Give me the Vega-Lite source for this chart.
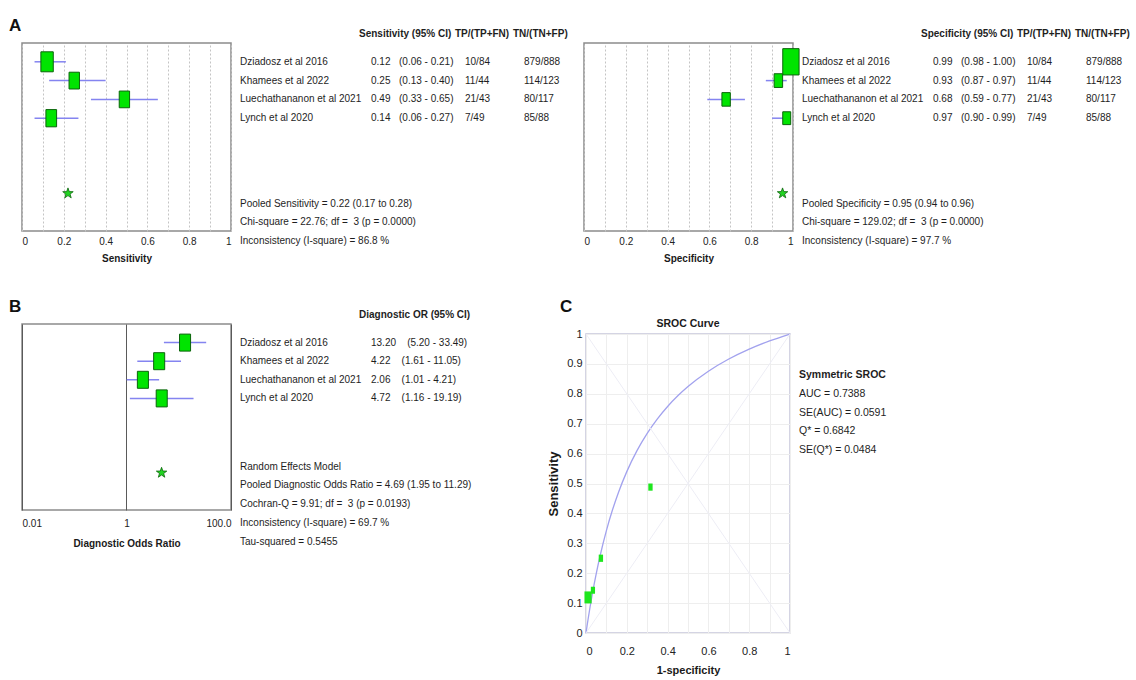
{
  "$schema": "https://vega.github.io/schema/vega-lite/v6.json",
  "background": "white",
  "padding": {"left": 8, "top": 16, "right": 0, "bottom": 0},
  "bounds": "full",
  "spacing": 33,
  "resolve": {"scale": {"size": "independent"}},
  "config": {
    "view": {"stroke": null},
    "font": "Liberation Sans, Arial, sans-serif",
    "text": {"font": "Liberation Sans, Arial, sans-serif", "fontSize": 10, "color": "#1e1e1e"},
    "axis": {"labelFont": "Liberation Sans, Arial, sans-serif", "labelFontSize": 10, "labelColor": "#222222", "titleFont": "Liberation Sans, Arial, sans-serif", "titleFontSize": 10, "titleFontWeight": "bold", "titleColor": "#1a1a1a", "ticks": false, "domain": false, "labelOverlap": false},
    "title": {"font": "Liberation Sans, Arial, sans-serif", "color": "#1a1a1a"}
  },
  "datasets": {
    "sens": [
      {"study": "Dziadosz et al 2016", "row": 1, "est": 0.12, "lo": 0.06, "hi": 0.21, "ci": "(0.06 - 0.21)", "tp": "10/84", "tn": "879/888", "n": 84},
      {"study": "Khamees et al 2022", "row": 2, "est": 0.25, "lo": 0.13, "hi": 0.40, "ci": "(0.13 - 0.40)", "tp": "11/44", "tn": "114/123", "n": 44},
      {"study": "Luechathananon et al 2021", "row": 3, "est": 0.49, "lo": 0.33, "hi": 0.65, "ci": "(0.33 - 0.65)", "tp": "21/43", "tn": "80/117", "n": 43},
      {"study": "Lynch et al 2020", "row": 4, "est": 0.14, "lo": 0.06, "hi": 0.27, "ci": "(0.06 - 0.27)", "tp": "7/49", "tn": "85/88", "n": 49}
    ],
    "spec": [
      {"study": "Dziadosz et al 2016", "row": 1, "est": 0.99, "lo": 0.98, "hi": 1.00, "ci": "(0.98 - 1.00)", "tp": "10/84", "tn": "879/888", "n": 888},
      {"study": "Khamees et al 2022", "row": 2, "est": 0.93, "lo": 0.87, "hi": 0.97, "ci": "(0.87 - 0.97)", "tp": "11/44", "tn": "114/123", "n": 123},
      {"study": "Luechathananon et al 2021", "row": 3, "est": 0.68, "lo": 0.59, "hi": 0.77, "ci": "(0.59 - 0.77)", "tp": "21/43", "tn": "80/117", "n": 117},
      {"study": "Lynch et al 2020", "row": 4, "est": 0.97, "lo": 0.90, "hi": 0.99, "ci": "(0.90 - 0.99)", "tp": "7/49", "tn": "85/88", "n": 88}
    ],
    "dor": [
      {"study": "Dziadosz et al 2016", "row": 1, "est": 13.20, "lo": 5.20, "hi": 33.49, "txt": "13.20\u00a0\u00a0\u00a0\u00a0(5.20 - 33.49)"},
      {"study": "Khamees et al 2022", "row": 2, "est": 4.22, "lo": 1.61, "hi": 11.05, "txt": "4.22\u00a0\u00a0\u00a0\u00a0(1.61 - 11.05)"},
      {"study": "Luechathananon et al 2021", "row": 3, "est": 2.06, "lo": 1.01, "hi": 4.21, "txt": "2.06\u00a0\u00a0\u00a0\u00a0(1.01 - 4.21)"},
      {"study": "Lynch et al 2020", "row": 4, "est": 4.72, "lo": 1.16, "hi": 19.19, "txt": "4.72\u00a0\u00a0\u00a0\u00a0(1.16 - 19.19)"}
    ],
    "sroc": [
      {"study": "Dziadosz et al 2016", "fpr": 0.0101, "sens": 0.119, "n": 972},
      {"study": "Khamees et al 2022", "fpr": 0.073, "sens": 0.25, "n": 167},
      {"study": "Luechathananon et al 2021", "fpr": 0.316, "sens": 0.488, "n": 160},
      {"study": "Lynch et al 2020", "fpr": 0.034, "sens": 0.143, "n": 137}
    ],
    "curve": [
      {"fpr": 0, "tpr": 0},
      {"fpr": 0.005, "tpr": 0.023},
      {"fpr": 0.01, "tpr": 0.0452},
      {"fpr": 0.02, "tpr": 0.0874},
      {"fpr": 0.03, "tpr": 0.1267},
      {"fpr": 0.04, "tpr": 0.1635},
      {"fpr": 0.05, "tpr": 0.198},
      {"fpr": 0.07, "tpr": 0.2609},
      {"fpr": 0.1, "tpr": 0.3426},
      {"fpr": 0.13, "tpr": 0.412},
      {"fpr": 0.16, "tpr": 0.4718},
      {"fpr": 0.2, "tpr": 0.5397},
      {"fpr": 0.25, "tpr": 0.6099},
      {"fpr": 0.3, "tpr": 0.6678},
      {"fpr": 0.35, "tpr": 0.7163},
      {"fpr": 0.4, "tpr": 0.7577},
      {"fpr": 0.45, "tpr": 0.7933},
      {"fpr": 0.5, "tpr": 0.8243},
      {"fpr": 0.6, "tpr": 0.8755},
      {"fpr": 0.7, "tpr": 0.9163},
      {"fpr": 0.8, "tpr": 0.9494},
      {"fpr": 0.9, "tpr": 0.9769},
      {"fpr": 1, "tpr": 1}
    ]
  },
  "vconcat": [
    {
      "bounds": "flush",
      "spacing": 9,
      "resolve": {"scale": {"size": "independent"}},
      "hconcat": [
        {
          "width": 209, "height": 188,
          "title": {"text": "A", "anchor": "start", "frame": "group", "dx": -13, "offset": -9, "baseline": "bottom", "font": "Liberation Sans", "fontSize": 17, "fontWeight": "bold", "color": "#111111"},
          "view": {"stroke": "#8c8c8c", "strokeWidth": 1.5},
          "data": {"name": "sens"},
          "layer": [
            {
              "mark": {"type": "rule", "color": "#8484f0", "strokeWidth": 1.5},
              "encoding": {
                "x": {"field": "lo", "type": "quantitative", "scale": {"domain": [0, 1]}, "axis": {"tickCount": 10, "labelExpr": "round(datum.value*10)%2==0 ? format(datum.value,'~g') : ''", "grid": true, "gridDash": [2, 2], "gridColor": "#c4c4c4", "labelPadding": 5, "labelOverlap": false, "title": "Sensitivity", "titlePadding": 7}},
                "x2": {"field": "hi"},
                "y": {"field": "row", "type": "quantitative", "scale": {"domain": [0, 10], "reverse": true}, "axis": null}
              }
            },
            {
              "mark": {"type": "point", "shape": "M-0.62,-1L0.62,-1L0.62,1L-0.62,1Z", "filled": true, "fill": "#00e400", "stroke": "#0b640b", "strokeWidth": 1, "opacity": 1},
              "encoding": {
                "x": {"field": "est", "type": "quantitative", "scale": {"domain": [0, 1]}, "axis": {"tickCount": 10, "labelExpr": "round(datum.value*10)%2==0 ? format(datum.value,'~g') : ''", "grid": true, "gridDash": [2, 2], "gridColor": "#c4c4c4", "labelPadding": 5, "labelOverlap": false, "title": "Sensitivity", "titlePadding": 7}},
                "y": {"field": "row", "type": "quantitative", "scale": {"domain": [0, 10], "reverse": true}, "axis": null},
                "size": {"field": "n", "type": "quantitative", "scale": {"domain": [43, 84], "range": [279, 400]}, "legend": null}
              }
            },
            {
              "data": {"values": [{"pooled": 0.22}]},
              "mark": {"type": "point", "shape": "M0,-1L0.235,-0.324L0.951,-0.309L0.38,0.124L0.588,0.809L0,0.4L-0.588,0.809L-0.38,0.124L-0.951,-0.309L-0.235,-0.324Z", "filled": true, "fill": "#22d422", "stroke": "#0b640b", "strokeWidth": 0.8, "size": 121, "opacity": 1},
              "encoding": {
                "x": {"field": "pooled", "type": "quantitative", "scale": {"domain": [0, 1]}, "axis": {"tickCount": 10, "labelExpr": "round(datum.value*10)%2==0 ? format(datum.value,'~g') : ''", "grid": true, "gridDash": [2, 2], "gridColor": "#c4c4c4", "labelPadding": 5, "labelOverlap": false, "title": "Sensitivity", "titlePadding": 7}},
                "y": {"datum": 8, "type": "quantitative", "scale": {"domain": [0, 10], "reverse": true}, "axis": null}
              }
            }
          ]
        },
        {
          "width": 122, "height": 188,
          "layer": [
            {"data": {"name": "sens"}, "mark": {"type": "text", "align": "left", "baseline": "middle"},
             "encoding": {"x": {"datum": 0, "type": "quantitative", "scale": {"domain": [0, 1]}, "axis": null}, "y": {"field": "row", "type": "quantitative", "scale": {"domain": [0, 10], "reverse": true}, "axis": null}, "text": {"field": "study"}}},
            {"data": {"values": [{"t": "Pooled Sensitivity = 0.22 (0.17 to 0.28)\nChi-square = 22.76; df =\u00a0\u00a03 (p = 0.0000)\nInconsistency (I-square) = 86.8 %"}]}, "mark": {"type": "text", "align": "left", "baseline": "alphabetic", "lineBreak": "\n", "lineHeight": 18.8},
             "encoding": {"x": {"datum": 0, "type": "quantitative", "scale": {"domain": [0, 1]}, "axis": null}, "y": {"datum": 8.7, "type": "quantitative", "scale": {"domain": [0, 10], "reverse": true}, "axis": null}, "text": {"field": "t"}}}
          ]
        },
        {
          "width": 19, "height": 188,
          "layer": [
            {"data": {"values": [{"t": "Sensitivity (95% CI)"}]}, "mark": {"type": "text", "align": "left", "baseline": "middle", "fontWeight": "bold", "dx": -12},
             "encoding": {"x": {"datum": 0, "type": "quantitative", "scale": {"domain": [0, 1]}, "axis": null}, "y": {"datum": -0.5, "type": "quantitative", "scale": {"domain": [0, 10], "reverse": true}, "axis": null}, "text": {"field": "t"}}},
            {"data": {"name": "sens"}, "mark": {"type": "text", "align": "left", "baseline": "middle"},
             "encoding": {"x": {"datum": 0, "type": "quantitative", "scale": {"domain": [0, 1]}, "axis": null}, "y": {"field": "row", "type": "quantitative", "scale": {"domain": [0, 10], "reverse": true}, "axis": null}, "text": {"field": "est", "type": "quantitative", "format": ".2f"}}}
          ]
        },
        {
          "width": 57, "height": 188,
          "data": {"name": "sens"},
          "mark": {"type": "text", "align": "left", "baseline": "middle"},
          "encoding": {"x": {"datum": 0, "type": "quantitative", "scale": {"domain": [0, 1]}, "axis": null}, "y": {"field": "row", "type": "quantitative", "scale": {"domain": [0, 10], "reverse": true}, "axis": null}, "text": {"field": "ci"}}
        },
        {
          "width": 50, "height": 188,
          "layer": [
            {"data": {"values": [{"t": "TP/(TP+FN)"}]}, "mark": {"type": "text", "align": "left", "baseline": "middle", "fontWeight": "bold", "dx": -10},
             "encoding": {"x": {"datum": 0, "type": "quantitative", "scale": {"domain": [0, 1]}, "axis": null}, "y": {"datum": -0.5, "type": "quantitative", "scale": {"domain": [0, 10], "reverse": true}, "axis": null}, "text": {"field": "t"}}},
            {"data": {"name": "sens"}, "mark": {"type": "text", "align": "left", "baseline": "middle"},
             "encoding": {"x": {"datum": 0, "type": "quantitative", "scale": {"domain": [0, 1]}, "axis": null}, "y": {"field": "row", "type": "quantitative", "scale": {"domain": [0, 10], "reverse": true}, "axis": null}, "text": {"field": "tp"}}}
          ]
        },
        {
          "width": 51, "height": 188,
          "layer": [
            {"data": {"values": [{"t": "TN/(TN+FP)"}]}, "mark": {"type": "text", "align": "left", "baseline": "middle", "fontWeight": "bold", "dx": -11},
             "encoding": {"x": {"datum": 0, "type": "quantitative", "scale": {"domain": [0, 1]}, "axis": null}, "y": {"datum": -0.5, "type": "quantitative", "scale": {"domain": [0, 10], "reverse": true}, "axis": null}, "text": {"field": "t"}}},
            {"data": {"name": "sens"}, "mark": {"type": "text", "align": "left", "baseline": "middle"},
             "encoding": {"x": {"datum": 0, "type": "quantitative", "scale": {"domain": [0, 1]}, "axis": null}, "y": {"field": "row", "type": "quantitative", "scale": {"domain": [0, 10], "reverse": true}, "axis": null}, "text": {"field": "tn"}}}
          ]
        },
        {
          "width": 209, "height": 188,
          "view": {"stroke": "#8c8c8c", "strokeWidth": 1.5},
          "data": {"name": "spec"},
          "layer": [
            {
              "mark": {"type": "rule", "color": "#8484f0", "strokeWidth": 1.5},
              "encoding": {
                "x": {"field": "lo", "type": "quantitative", "scale": {"domain": [0, 1]}, "axis": {"tickCount": 10, "labelExpr": "round(datum.value*10)%2==0 ? format(datum.value,'~g') : ''", "grid": true, "gridDash": [2, 2], "gridColor": "#c4c4c4", "labelPadding": 5, "labelOverlap": false, "title": "Specificity", "titlePadding": 7}},
                "x2": {"field": "hi"},
                "y": {"field": "row", "type": "quantitative", "scale": {"domain": [0, 10], "reverse": true}, "axis": null}
              }
            },
            {
              "mark": {"type": "point", "shape": "M-0.62,-1L0.62,-1L0.62,1L-0.62,1Z", "filled": true, "fill": "#00e400", "stroke": "#0b640b", "strokeWidth": 1, "opacity": 1},
              "encoding": {
                "x": {"field": "est", "type": "quantitative", "scale": {"domain": [0, 1]}, "axis": {"tickCount": 10, "labelExpr": "round(datum.value*10)%2==0 ? format(datum.value,'~g') : ''", "grid": true, "gridDash": [2, 2], "gridColor": "#c4c4c4", "labelPadding": 5, "labelOverlap": false, "title": "Specificity", "titlePadding": 7}},
                "y": {"field": "row", "type": "quantitative", "scale": {"domain": [0, 10], "reverse": true}, "axis": null},
                "size": {"field": "n", "type": "quantitative", "scale": {"domain": [88, 888], "range": [165, 692]}, "legend": null}
              }
            },
            {
              "data": {"values": [{"pooled": 0.95}]},
              "mark": {"type": "point", "shape": "M0,-1L0.235,-0.324L0.951,-0.309L0.38,0.124L0.588,0.809L0,0.4L-0.588,0.809L-0.38,0.124L-0.951,-0.309L-0.235,-0.324Z", "filled": true, "fill": "#22d422", "stroke": "#0b640b", "strokeWidth": 0.8, "size": 121, "opacity": 1},
              "encoding": {
                "x": {"field": "pooled", "type": "quantitative", "scale": {"domain": [0, 1]}, "axis": {"tickCount": 10, "labelExpr": "round(datum.value*10)%2==0 ? format(datum.value,'~g') : ''", "grid": true, "gridDash": [2, 2], "gridColor": "#c4c4c4", "labelPadding": 5, "labelOverlap": false, "title": "Specificity", "titlePadding": 7}},
                "y": {"datum": 8, "type": "quantitative", "scale": {"domain": [0, 10], "reverse": true}, "axis": null}
              }
            }
          ]
        },
        {
          "width": 122, "height": 188,
          "layer": [
            {"data": {"name": "spec"}, "mark": {"type": "text", "align": "left", "baseline": "middle"},
             "encoding": {"x": {"datum": 0, "type": "quantitative", "scale": {"domain": [0, 1]}, "axis": null}, "y": {"field": "row", "type": "quantitative", "scale": {"domain": [0, 10], "reverse": true}, "axis": null}, "text": {"field": "study"}}},
            {"data": {"values": [{"t": "Pooled Specificity = 0.95 (0.94 to 0.96)\nChi-square = 129.02; df =\u00a0\u00a03 (p = 0.0000)\nInconsistency (I-square) = 97.7 %"}]}, "mark": {"type": "text", "align": "left", "baseline": "alphabetic", "lineBreak": "\n", "lineHeight": 18.8},
             "encoding": {"x": {"datum": 0, "type": "quantitative", "scale": {"domain": [0, 1]}, "axis": null}, "y": {"datum": 8.7, "type": "quantitative", "scale": {"domain": [0, 10], "reverse": true}, "axis": null}, "text": {"field": "t"}}}
          ]
        },
        {
          "width": 19, "height": 188,
          "layer": [
            {"data": {"values": [{"t": "Specificity (95% CI)"}]}, "mark": {"type": "text", "align": "left", "baseline": "middle", "fontWeight": "bold", "dx": -12},
             "encoding": {"x": {"datum": 0, "type": "quantitative", "scale": {"domain": [0, 1]}, "axis": null}, "y": {"datum": -0.5, "type": "quantitative", "scale": {"domain": [0, 10], "reverse": true}, "axis": null}, "text": {"field": "t"}}},
            {"data": {"name": "spec"}, "mark": {"type": "text", "align": "left", "baseline": "middle"},
             "encoding": {"x": {"datum": 0, "type": "quantitative", "scale": {"domain": [0, 1]}, "axis": null}, "y": {"field": "row", "type": "quantitative", "scale": {"domain": [0, 10], "reverse": true}, "axis": null}, "text": {"field": "est", "type": "quantitative", "format": ".2f"}}}
          ]
        },
        {
          "width": 57, "height": 188,
          "data": {"name": "spec"},
          "mark": {"type": "text", "align": "left", "baseline": "middle"},
          "encoding": {"x": {"datum": 0, "type": "quantitative", "scale": {"domain": [0, 1]}, "axis": null}, "y": {"field": "row", "type": "quantitative", "scale": {"domain": [0, 10], "reverse": true}, "axis": null}, "text": {"field": "ci"}}
        },
        {
          "width": 50, "height": 188,
          "layer": [
            {"data": {"values": [{"t": "TP/(TP+FN)"}]}, "mark": {"type": "text", "align": "left", "baseline": "middle", "fontWeight": "bold", "dx": -10},
             "encoding": {"x": {"datum": 0, "type": "quantitative", "scale": {"domain": [0, 1]}, "axis": null}, "y": {"datum": -0.5, "type": "quantitative", "scale": {"domain": [0, 10], "reverse": true}, "axis": null}, "text": {"field": "t"}}},
            {"data": {"name": "spec"}, "mark": {"type": "text", "align": "left", "baseline": "middle"},
             "encoding": {"x": {"datum": 0, "type": "quantitative", "scale": {"domain": [0, 1]}, "axis": null}, "y": {"field": "row", "type": "quantitative", "scale": {"domain": [0, 10], "reverse": true}, "axis": null}, "text": {"field": "tp"}}}
          ]
        },
        {
          "width": 51, "height": 188,
          "layer": [
            {"data": {"values": [{"t": "TN/(TN+FP)"}]}, "mark": {"type": "text", "align": "left", "baseline": "middle", "fontWeight": "bold", "dx": -11},
             "encoding": {"x": {"datum": 0, "type": "quantitative", "scale": {"domain": [0, 1]}, "axis": null}, "y": {"datum": -0.5, "type": "quantitative", "scale": {"domain": [0, 10], "reverse": true}, "axis": null}, "text": {"field": "t"}}},
            {"data": {"name": "spec"}, "mark": {"type": "text", "align": "left", "baseline": "middle"},
             "encoding": {"x": {"datum": 0, "type": "quantitative", "scale": {"domain": [0, 1]}, "axis": null}, "y": {"field": "row", "type": "quantitative", "scale": {"domain": [0, 10], "reverse": true}, "axis": null}, "text": {"field": "tn"}}}
          ]
        }
      ]
    },
    {
      "bounds": "flush",
      "spacing": 9,
      "resolve": {"scale": {"size": "independent"}},
      "hconcat": [
        {
          "width": 209, "height": 186,
          "title": {"text": "B", "anchor": "start", "frame": "group", "dx": -13, "offset": -9, "baseline": "bottom", "font": "Liberation Sans", "fontSize": 17, "fontWeight": "bold", "color": "#111111"},
          "view": {"stroke": "#8c8c8c", "strokeWidth": 1.5},
          "data": {"name": "dor"},
          "layer": [
            {
              "mark": {"type": "rule", "color": "#8484f0", "strokeWidth": 1.5},
              "encoding": {
                "x": {"field": "lo", "type": "quantitative", "scale": {"type": "log", "domain": [0.01, 100]}, "axis": {"values": [0.01, 1, 100], "labelExpr": "datum.value < 0.1 ? '0.01' : datum.value < 10 ? '1' : '100.0'", "labelFlush": true, "grid": true, "gridColor": "#5a5a5a", "gridWidth": 1, "labelPadding": 8, "labelOverlap": false, "title": "Diagnostic Odds Ratio", "titlePadding": 10}},
                "x2": {"field": "hi"},
                "y": {"field": "row", "type": "quantitative", "scale": {"domain": [0, 10], "reverse": true}, "axis": null}
              }
            },
            {
              "mark": {"type": "point", "shape": "M-0.65,-1L0.65,-1L0.65,1L-0.65,1Z", "filled": true, "fill": "#00e400", "stroke": "#0b640b", "strokeWidth": 1, "opacity": 1, "size": 289},
              "encoding": {
                "x": {"field": "est", "type": "quantitative", "scale": {"type": "log", "domain": [0.01, 100]}, "axis": {"values": [0.01, 1, 100], "labelExpr": "datum.value < 0.1 ? '0.01' : datum.value < 10 ? '1' : '100.0'", "labelFlush": true, "grid": true, "gridColor": "#5a5a5a", "gridWidth": 1, "labelPadding": 8, "labelOverlap": false, "title": "Diagnostic Odds Ratio", "titlePadding": 10}},
                "y": {"field": "row", "type": "quantitative", "scale": {"domain": [0, 10], "reverse": true}, "axis": null}
              }
            },
            {
              "data": {"values": [{"pooled": 4.69}]},
              "mark": {"type": "point", "shape": "M0,-1L0.235,-0.324L0.951,-0.309L0.38,0.124L0.588,0.809L0,0.4L-0.588,0.809L-0.38,0.124L-0.951,-0.309L-0.235,-0.324Z", "filled": true, "fill": "#22d422", "stroke": "#0b640b", "strokeWidth": 0.8, "size": 121, "opacity": 1},
              "encoding": {
                "x": {"field": "pooled", "type": "quantitative", "scale": {"type": "log", "domain": [0.01, 100]}, "axis": {"values": [0.01, 1, 100], "labelExpr": "datum.value < 0.1 ? '0.01' : datum.value < 10 ? '1' : '100.0'", "labelFlush": true, "grid": true, "gridColor": "#5a5a5a", "gridWidth": 1, "labelPadding": 8, "labelOverlap": false, "title": "Diagnostic Odds Ratio", "titlePadding": 10}},
                "y": {"datum": 8, "type": "quantitative", "scale": {"domain": [0, 10], "reverse": true}, "axis": null}
              }
            }
          ]
        },
        {
          "width": 122, "height": 186,
          "layer": [
            {"data": {"name": "dor"}, "mark": {"type": "text", "align": "left", "baseline": "middle"},
             "encoding": {"x": {"datum": 0, "type": "quantitative", "scale": {"domain": [0, 1]}, "axis": null}, "y": {"field": "row", "type": "quantitative", "scale": {"domain": [0, 10], "reverse": true}, "axis": null}, "text": {"field": "study"}}},
            {"data": {"values": [{"t": "Random Effects Model\nPooled Diagnostic Odds Ratio = 4.69 (1.95 to 11.29)\nCochran-Q = 9.91; df =\u00a0\u00a03 (p = 0.0193)\nInconsistency (I-square) = 69.7 %\nTau-squared = 0.5455"}]}, "mark": {"type": "text", "align": "left", "baseline": "alphabetic", "lineBreak": "\n", "lineHeight": 18.75},
             "encoding": {"x": {"datum": 0, "type": "quantitative", "scale": {"domain": [0, 1]}, "axis": null}, "y": {"datum": 7.83, "type": "quantitative", "scale": {"domain": [0, 10], "reverse": true}, "axis": null}, "text": {"field": "t"}}}
          ]
        },
        {
          "width": 206, "height": 186,
          "layer": [
            {"data": {"values": [{"t": "Diagnostic OR (95% CI)"}]}, "mark": {"type": "text", "align": "left", "baseline": "middle", "fontWeight": "bold", "dx": -12},
             "encoding": {"x": {"datum": 0, "type": "quantitative", "scale": {"domain": [0, 1]}, "axis": null}, "y": {"datum": -0.5, "type": "quantitative", "scale": {"domain": [0, 10], "reverse": true}, "axis": null}, "text": {"field": "t"}}},
            {"data": {"name": "dor"}, "mark": {"type": "text", "align": "left", "baseline": "middle"},
             "encoding": {"x": {"datum": 0, "type": "quantitative", "scale": {"domain": [0, 1]}, "axis": null}, "y": {"field": "row", "type": "quantitative", "scale": {"domain": [0, 10], "reverse": true}, "axis": null}, "text": {"field": "txt"}}}
          ]
        },
        {
          "bounds": "flush",
          "spacing": 0,
          "resolve": {"scale": {"size": "independent"}},
          "vconcat": [
            {
              "width": 204, "height": 10,
              "title": {"text": "C", "anchor": "start", "frame": "group", "dx": -26, "offset": -9, "baseline": "bottom", "font": "Liberation Sans", "fontSize": 17, "fontWeight": "bold", "color": "#111111"},
              "data": {"values": [{}]},
              "mark": {"type": "text", "text": ""},
              "encoding": {}
            },
            {
              "bounds": "flush",
              "spacing": 9,
              "resolve": {"scale": {"size": "independent"}},
              "hconcat": [
                {
                  "width": 204, "height": 299,
                  "title": {"text": "SROC Curve", "anchor": "middle", "offset": -11, "baseline": "bottom", "fontSize": 10.5, "fontWeight": "bold", "color": "#1a1a1a"},
                  "view": {"stroke": "#c6c6da", "strokeWidth": 1.5},
                  "layer": [
                    {
                      "data": {"name": "curve"},
                      "mark": {"type": "line", "color": "#a2a2ee", "strokeWidth": 1.3, "interpolate": "monotone"},
                      "encoding": {
                        "x": {"field": "fpr", "type": "quantitative", "scale": {"domain": [0, 1]}, "axis": {"tickCount": 10, "labelExpr": "round(datum.value*10)%2==0 ? format(datum.value,'~g') : ''", "grid": true, "gridColor": "#eeeeee", "labelPadding": 12, "labelFontSize": 11, "labelOverlap": false, "title": "1-specificity", "titlePadding": 8, "titleFontSize": 11}},
                        "y": {"field": "tpr", "type": "quantitative", "scale": {"domain": [0, 1]}, "axis": {"tickCount": 10, "format": "~g", "grid": true, "gridColor": "#eeeeee", "labelPadding": 4, "labelFontSize": 11, "labelOverlap": false, "title": "Sensitivity", "titlePadding": 6, "titleFontSize": 13}}
                      }
                    },
                    {
                      "data": {"values": [{}]},
                      "mark": {"type": "rule", "color": "#ededf5", "strokeWidth": 1},
                      "encoding": {
                        "x": {"datum": 0, "type": "quantitative", "scale": {"domain": [0, 1]}, "axis": {"tickCount": 10, "labelExpr": "round(datum.value*10)%2==0 ? format(datum.value,'~g') : ''", "grid": true, "gridColor": "#eeeeee", "labelPadding": 12, "labelFontSize": 11, "labelOverlap": false, "title": "1-specificity", "titlePadding": 8, "titleFontSize": 11}},
                        "y": {"datum": 0, "type": "quantitative", "scale": {"domain": [0, 1]}, "axis": {"tickCount": 10, "format": "~g", "grid": true, "gridColor": "#eeeeee", "labelPadding": 4, "labelFontSize": 11, "labelOverlap": false, "title": "Sensitivity", "titlePadding": 6, "titleFontSize": 13}},
                        "x2": {"datum": 1},
                        "y2": {"datum": 1}
                      }
                    },
                    {
                      "data": {"values": [{}]},
                      "mark": {"type": "rule", "color": "#ededf5", "strokeWidth": 1},
                      "encoding": {
                        "x": {"datum": 0, "type": "quantitative", "scale": {"domain": [0, 1]}, "axis": {"tickCount": 10, "labelExpr": "round(datum.value*10)%2==0 ? format(datum.value,'~g') : ''", "grid": true, "gridColor": "#eeeeee", "labelPadding": 12, "labelFontSize": 11, "labelOverlap": false, "title": "1-specificity", "titlePadding": 8, "titleFontSize": 11}},
                        "y": {"datum": 1, "type": "quantitative", "scale": {"domain": [0, 1]}, "axis": {"tickCount": 10, "format": "~g", "grid": true, "gridColor": "#eeeeee", "labelPadding": 4, "labelFontSize": 11, "labelOverlap": false, "title": "Sensitivity", "titlePadding": 6, "titleFontSize": 13}},
                        "x2": {"datum": 1},
                        "y2": {"datum": 0}
                      }
                    },
                    {
                      "data": {"name": "sroc"},
                      "mark": {"type": "point", "shape": "M-0.6,-1L0.6,-1L0.6,1L-0.6,1Z", "filled": true, "fill": "#1ee61e", "strokeWidth": 0, "opacity": 1},
                      "encoding": {
                        "x": {"field": "fpr", "type": "quantitative", "scale": {"domain": [0, 1]}, "axis": {"tickCount": 10, "labelExpr": "round(datum.value*10)%2==0 ? format(datum.value,'~g') : ''", "grid": true, "gridColor": "#eeeeee", "labelPadding": 12, "labelFontSize": 11, "labelOverlap": false, "title": "1-specificity", "titlePadding": 8, "titleFontSize": 11}},
                        "y": {"field": "sens", "type": "quantitative", "scale": {"domain": [0, 1]}, "axis": {"tickCount": 10, "format": "~g", "grid": true, "gridColor": "#eeeeee", "labelPadding": 4, "labelFontSize": 11, "labelOverlap": false, "title": "Sensitivity", "titlePadding": 6, "titleFontSize": 13}},
                        "size": {"field": "n", "type": "quantitative", "scale": {"domain": [137, 972], "range": [49, 144]}, "legend": null}
                      }
                    }
                  ]
                },
                {
                  "width": 120, "height": 186,
                  "layer": [
                    {"data": {"values": [{"t": "Symmetric SROC"}]}, "mark": {"type": "text", "align": "left", "baseline": "middle", "fontWeight": "bold", "fontSize": 10.5},
                     "encoding": {"x": {"datum": 0, "type": "quantitative", "scale": {"domain": [0, 1]}, "axis": null}, "y": {"datum": 2.2, "type": "quantitative", "scale": {"domain": [0, 10], "reverse": true}, "axis": null}, "text": {"field": "t"}}},
                    {"data": {"values": [{"t": "AUC = 0.7388\nSE(AUC) = 0.0591\nQ* = 0.6842\nSE(Q*) = 0.0484"}]}, "mark": {"type": "text", "align": "left", "baseline": "alphabetic", "lineBreak": "\n", "lineHeight": 18.75, "fontSize": 10.5},
                     "encoding": {"x": {"datum": 0, "type": "quantitative", "scale": {"domain": [0, 1]}, "axis": null}, "y": {"datum": 3.38, "type": "quantitative", "scale": {"domain": [0, 10], "reverse": true}, "axis": null}, "text": {"field": "t"}}}
                  ]
                }
              ]
            }
          ]
        }
      ]
    }
  ]
}
